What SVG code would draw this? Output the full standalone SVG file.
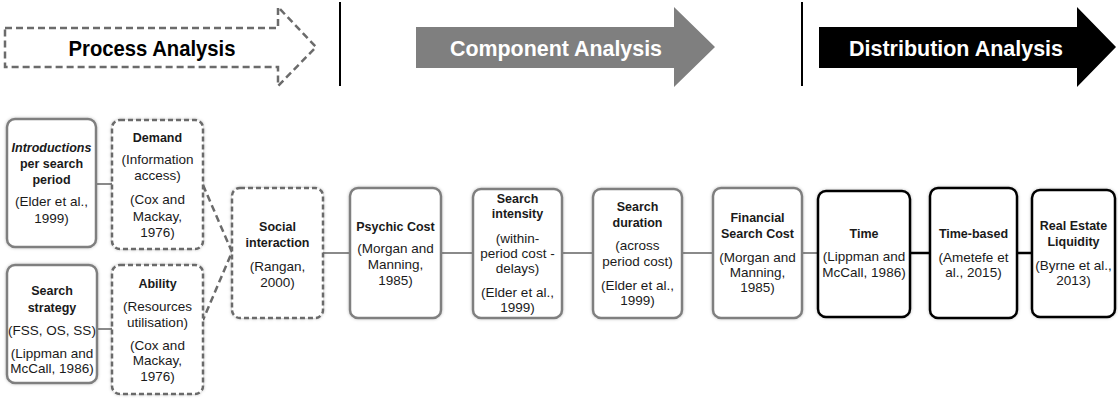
<svg xmlns="http://www.w3.org/2000/svg" width="1118" height="398" viewBox="0 0 1118 398">
  <style>
    .t { font-family: "Liberation Sans", Arial, sans-serif; fill: #1a1a1a; text-anchor: middle; }
    .b { font-size: 12.5px; font-weight: bold; }
    .r { font-size: 13.5px; }
    .h { font-family: "Liberation Sans", Arial, sans-serif; font-size: 22.5px; font-weight: bold; text-anchor: middle; }
    .box { fill: #ffffff; stroke: #7f7f7f; stroke-width: 2.5; filter: url(#soft); }
    .dash { stroke-dasharray: 5 3; stroke: #6b6b6b; }
    .dark { stroke: #000000; }
    .link { stroke: #8a8a8a; stroke-width: 2; fill: none; }
    .link-dash { stroke: #6b6b6b; stroke-width: 2.5; stroke-dasharray: 7 4; fill: none; }
    .link-dark { stroke: #000000; stroke-width: 2.5; fill: none; }
  </style>
  <defs>
    <filter id="soft" x="-10%" y="-10%" width="120%" height="120%">
      <feDropShadow dx="0" dy="0" stdDeviation="1.5" flood-color="#000" flood-opacity="0.25"/>
    </filter>
  </defs>
  <rect width="1118" height="398" fill="#ffffff"/>

  <!-- phase banners -->
  <g id="phase-process">
    <path d="M5 28 H278 V7 L316 47 L278 86 V67 H5 Z" fill="none" stroke="#6b6b6b" stroke-width="2.5" stroke-dasharray="7 4"/>
    <text class="h" x="152" y="56" fill="#000" textLength="167" lengthAdjust="spacingAndGlyphs">Process Analysis</text>
  </g>
  <line x1="340" y1="2" x2="340" y2="86" stroke="#000" stroke-width="2"/>
  <g id="phase-component">
    <path d="M416 27 H674 V7 L715 47 L674 87 V68 H416 Z" fill="#7f7f7f"/>
    <text class="h" x="556" y="56" fill="#fff" textLength="212" lengthAdjust="spacingAndGlyphs">Component Analysis</text>
  </g>
  <line x1="802" y1="2" x2="802" y2="86" stroke="#000" stroke-width="2"/>
  <g id="phase-distribution">
    <path d="M819 27 H1077 V7 L1116 47 L1077 87 V68 H819 Z" fill="#000"/>
    <text class="h" x="956" y="56" fill="#fff" textLength="214" lengthAdjust="spacingAndGlyphs">Distribution Analysis</text>
  </g>

  <!-- connectors -->
  <g id="connectors">
    <line class="link" x1="96" y1="184" x2="112" y2="184"/>
    <line class="link" x1="97" y1="329" x2="112" y2="329"/>
    <polyline class="link-dash" points="203,185 232,252 203,320"/>
    <line class="link" x1="323" y1="253" x2="350" y2="253"/>
    <line class="link" x1="441" y1="253" x2="473" y2="253"/>
    <line class="link" x1="562" y1="253" x2="593" y2="253"/>
    <line class="link" x1="682" y1="253" x2="713" y2="253"/>
    <line class="link" x1="802" y1="253" x2="818" y2="253"/>
    <line class="link-dark" x1="910" y1="253" x2="930" y2="253"/>
    <line class="link-dark" x1="1017" y1="253" x2="1032" y2="253"/>
  </g>

  <!-- nodes -->
  <g id="introductions">
    <rect class="box" x="7" y="119" width="89" height="128" rx="8"/>
    <text class="t b" x="51.5" y="152"><tspan font-style="italic">Introductions</tspan></text>
    <text class="t b" x="51.5" y="168">per search</text>
    <text class="t b" x="51.5" y="184">period</text>
    <text class="t r" x="51.5" y="206">(Elder et al.,</text>
    <text class="t r" x="51.5" y="223">1999)</text>
  </g>
  <g id="demand">
    <rect class="box dash" x="112" y="120" width="91" height="129" rx="8"/>
    <text class="t b" x="157.5" y="142">Demand</text>
    <text class="t r" x="157.5" y="164">(Information</text>
    <text class="t r" x="157.5" y="180">access)</text>
    <text class="t r" x="157.5" y="204">(Cox and</text>
    <text class="t r" x="157.5" y="221">Mackay,</text>
    <text class="t r" x="157.5" y="237">1976)</text>
  </g>
  <g id="search-strategy">
    <rect class="box" x="7" y="265" width="90" height="118" rx="8"/>
    <text class="t b" x="52" y="295">Search</text>
    <text class="t b" x="52" y="312">strategy</text>
    <text class="t r" x="52" y="335">(FSS, OS, SS)</text>
    <text class="t r" x="52" y="358">(Lippman and</text>
    <text class="t r" x="52" y="373">McCall, 1986)</text>
  </g>
  <g id="ability">
    <rect class="box dash" x="112" y="265" width="91" height="129" rx="8"/>
    <text class="t b" x="157.5" y="288">Ability</text>
    <text class="t r" x="157.5" y="311">(Resources</text>
    <text class="t r" x="157.5" y="327">utilisation)</text>
    <text class="t r" x="157.5" y="350">(Cox and</text>
    <text class="t r" x="157.5" y="365">Mackay,</text>
    <text class="t r" x="157.5" y="381">1976)</text>
  </g>
  <g id="social-interaction">
    <rect class="box dash" x="232" y="188" width="91" height="130" rx="8"/>
    <text class="t b" x="277.5" y="231">Social</text>
    <text class="t b" x="277.5" y="247">interaction</text>
    <text class="t r" x="277.5" y="271">(Rangan,</text>
    <text class="t r" x="277.5" y="287">2000)</text>
  </g>
  <g id="psychic-cost">
    <rect class="box" x="350" y="188" width="91" height="130" rx="8"/>
    <text class="t b" x="395.5" y="231">Psychic Cost</text>
    <text class="t r" x="395.5" y="253">(Morgan and</text>
    <text class="t r" x="395.5" y="269">Manning,</text>
    <text class="t r" x="395.5" y="285">1985)</text>
  </g>
  <g id="search-intensity">
    <rect class="box" x="473" y="189" width="89" height="129" rx="8"/>
    <text class="t b" x="517.5" y="203">Search</text>
    <text class="t b" x="517.5" y="218">intensity</text>
    <text class="t r" x="517.5" y="243">(within-</text>
    <text class="t r" x="517.5" y="258">period cost -</text>
    <text class="t r" x="517.5" y="273">delays)</text>
    <text class="t r" x="517.5" y="297">(Elder et al.,</text>
    <text class="t r" x="517.5" y="312">1999)</text>
  </g>
  <g id="search-duration">
    <rect class="box" x="593" y="189" width="89" height="129" rx="8"/>
    <text class="t b" x="637.5" y="211">Search</text>
    <text class="t b" x="637.5" y="227">duration</text>
    <text class="t r" x="637.5" y="250">(across</text>
    <text class="t r" x="637.5" y="266">period cost)</text>
    <text class="t r" x="637.5" y="290">(Elder et al.,</text>
    <text class="t r" x="637.5" y="305">1999)</text>
  </g>
  <g id="financial-search-cost">
    <rect class="box" x="713" y="188" width="89" height="130" rx="8"/>
    <text class="t b" x="757.5" y="222">Financial</text>
    <text class="t b" x="757.5" y="238">Search Cost</text>
    <text class="t r" x="757.5" y="262">(Morgan and</text>
    <text class="t r" x="757.5" y="277">Manning,</text>
    <text class="t r" x="757.5" y="292">1985)</text>
  </g>
  <g id="time">
    <rect class="box dark" x="818" y="191" width="92" height="126" rx="8"/>
    <text class="t b" x="864" y="238">Time</text>
    <text class="t r" x="864" y="261">(Lippman and</text>
    <text class="t r" x="864" y="277">McCall, 1986)</text>
  </g>
  <g id="time-based">
    <rect class="box dark" x="930" y="188" width="87" height="130" rx="8"/>
    <text class="t b" x="973.5" y="238">Time-based</text>
    <text class="t r" x="973.5" y="262">(Ametefe et</text>
    <text class="t r" x="973.5" y="277">al., 2015)</text>
  </g>
  <g id="real-estate-liquidity">
    <rect class="box dark" x="1032" y="190" width="83" height="127" rx="8"/>
    <text class="t b" x="1073.5" y="230">Real Estate</text>
    <text class="t b" x="1073.5" y="246">Liquidity</text>
    <text class="t r" x="1073.5" y="270">(Byrne et al.,</text>
    <text class="t r" x="1073.5" y="285">2013)</text>
  </g>
</svg>
